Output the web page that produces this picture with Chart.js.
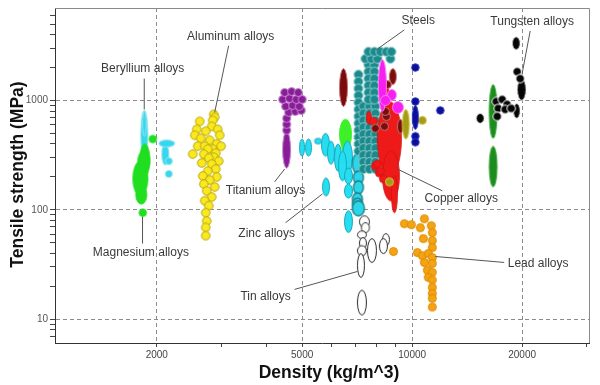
<!DOCTYPE html>
<html><head><meta charset="utf-8">
<script src="https://cdn.jsdelivr.net/npm/chart.js@4.4.0/dist/chart.umd.min.js"></script>
<style>html,body{margin:0;padding:0;background:#fff;overflow:hidden}canvas{display:block}</style>
</head><body>
<canvas id="c" width="600" height="385"></canvas>
<script>
// ---- axis ticks ----
const xTicks = [2000,3000,4000,5000,6000,7000,8000,9000,10000,20000,30000];
const xLabels = [2000,5000,10000,20000];
const yTicks = [7,8,9,10,20,30,40,50,60,70,80,90,100,200,300,400,500,600,700,800,900,1000,2000,3000,4000,5000,6000];
const yLabels = [10,100,1000];

// ---- data: [density, strength] for single grades, [densLo, densHi, strLo, strHi] for ranges ----
const beryllium = [[1808,1890,279,811],[1828,1870,470,794],[2064,2157,256,408],[2025,2240,376,435],[2157,279],[2157,213]];
const magnesium = [[1797,1914,204,400],[1720,1890,134,279],[1775,1914,227,345],[1752,1878,113,166],[1950,444],[1831,94]];
const aluminum = [[2863,746],[2881,701],[2845,658],[2621,644],[2827,580],[2936,545],[2572,545],[2722,523],[2541,481],[2973,481],[2638,451],[2792,433],[2918,400],[2589,382],[2705,382],[3000,382],[2845,359],[2757,359],[2899,330],[2508,323],[2689,323],[2863,303],[2775,297],[2955,279],[2655,268],[2827,262],[2899,236],[2757,226],[2672,204],[2918,200],[2792,187],[2689,172],[2881,162],[2740,149],[2827,131],[2705,121],[2775,109],[2722,94],[2740,79],[2722,69],[2722,58]];
const titanium = [[4421,4648,241,523],[4534,534],[4534,605],[4534,686],[4591,778],[4785,794],[4969,811],[4505,882],[4706,901],[4907,882],[4421,1021],[4618,1043],[4815,1021],[5000,1021],[4477,1183],[4677,1207],[4876,1183]];
const lime = [[6325,6820,359,672],[6404,6736,330,424]];
const zinc = [[4918,5075,310,444],[5107,5302,310,444],[5404,5648,400,451],[5648,5940,310,500],[5866,6130,262,424],[6130,6404,226,400],[6444,6862,213,424],[6286,6610,184,344],[6528,6862,172,241],[6528,6862,128,172],[5685,5940,134,195],[6528,6862,62,98]];
const steelsLow = [[6862,7262,216,323],[6906,7355,172,226],[6906,7355,140,184],[6862,7308,109,143],[6862,7308,98,128],[6862,7400,88,121]];
const steels = [
 [7128,1723],[7128,1488],[7128,1285],[7128,1110],[7128,959],[7128,828],[7128,715],[7128,618],[7128,534],[7128,461],[7128,400],[7128,344],
 [7355,882],[7638,882],[7932,882],[7355,762],[7638,762],[7932,762],[7355,658],[7638,658],[7932,658],[7355,568],[7638,568],[7932,568],
 [7355,491],[7638,491],[7932,491],[7355,424],[7638,424],[7932,424],[7355,366],[7638,366],[7932,366],[7355,316],[7638,316],[7932,316],
 [7355,273],[7638,273],[7932,273],[7355,236],[7638,236],[7932,236],
 [7590,2125],[7883,2125],[7590,1835],[7883,1835],[7590,1585],[7883,1585],[7590,1369],[7883,1369],[7590,1182],[7883,1182],[7590,1021],[7883,1021],
 [7447,2409],[7735,2409],[8033,2409],[8718,2409],
 [7590,2789],[7883,2789],[8186,2789],[8500,2789],[8774,2789]
];
const copper = [[8033,9342,204,979],[8290,9226,121,344],[8774,9110,94,204],[8135,8663,846,1398],[7494,7735,605,794],[7932,251],[8135,217],[7832,644],[8342,192],[8033,262],[8186,226]];
const maroon = [[6325,6652,882,1954],[8663,9052,1398,1954],[9110,9461,500,672],[8553,1398],[8500,715],[7932,556],[8395,580],[8447,794]];
const magenta = [[8084,8500,794,2359],[8553,9052,1000,1259],[8829,9461,762,979],[8447,1000]];
const olive = [[9400,9826,444,828],[10664,658],[8663,180]];
const navy = [[10202,2000],[10202,979],[10012,10394,545,901],[10202,471],[10202,415],[11940,811]];
const tin = [[7173,7638,68.6,88],[7262,7638,61.8,76.2],[7083,7494,54.5,64],[7173,7494,44.2,55.6],[7083,7494,38,47],[7083,7400,24.1,39.8],[7543,7982,33,54.5],[8290,8663,47,60.5],[8135,8553,39.8,54.5],[7083,7494,10.9,18.4]];
const lead = [[9521,74.6],[9950,73],[10530,68.6],[10797,82.8],[11280,71.5],[11350,61.8],[10730,54.5],[11350,52.3],[11350,45.1],[10332,40.6],[10664,38],[11070,39.8],[11350,36.6],[10797,33],[11350,32.3],[11000,28],[11350,26.8],[11070,24.1],[11350,22.8],[11350,19.5],[11350,17.2],[11350,15.5],[11350,12.9],[8884,41.5]];
const darkGreen = [[16248,17090,451,1398],[16248,17090,162,382]];
const tungsten = [[18782,19750,2909,3817],[19380,20504,1000,1585],[19380,1835],[19750,1585],[18900,19750,686,939],[14970,15740,618,762],[16982,979],[17638,1021],[18200,920],[17200,846],[17090,715],[17972,828],[18666,846]];

// ---- labels with leader lines (data coordinates) ----
const annotations = [
 {text:'Beryllium alloys', at:[1830,1950], from:[1848,1585], to:[1848,828]},
 {text:'Aluminum alloys', at:[3186,3817], from:[3145,3162], to:[2881,778]},
 {text:'Titanium alloys', at:[3970,149], from:[4202,180], to:[4477,236]},
 {text:'Steels', at:[10394,5336], from:[9521,4421], to:[7982,2909]},
 {text:'Tungsten alloys', at:[21300,5226], from:[21040,4329], to:[20000,1760]},
 {text:'Copper alloys', at:[13626,126], from:[12090,149], to:[9110,236]},
 {text:'Zinc alloys', at:[3997,60.5], from:[4503,76.2], to:[5685,140]},
 {text:'Magnesium alloys', at:[1809,40.6], from:[1828,49.1], to:[1828,86.4]},
 {text:'Tin alloys', at:[3970,16.2], from:[4766,18.7], to:[7084,27.3]},
 {text:'Lead alloys', at:[22120,32.3], from:[17855,33.0], to:[11570,37.4]}
];

// ---- styles ----
const styles = {
 beryllium:{fill:'#36d6ec', stroke:'#8fe6f2', lw:1, dot:7},
 magnesium:{fill:'#20de20', stroke:'#20de20', lw:1, dot:7.5},
 aluminum:{fill:'#fbe920', stroke:'#b8a70c', lw:1, dot:8.5},
 titanium:{fill:'#8a1c97', stroke:'#c088cc', lw:1, dot:8},
 lime:{fill:'#3ef02a', stroke:'#3ef02a', lw:1, dot:8},
 zinc:{fill:'#25dff0', stroke:'#1aa6c0', lw:1, dot:8},
 steelsLow:{fill:'#2bd6ea', stroke:'#1d7f86', lw:1.4, dot:8},
 steels:{fill:'#1b8a8d', stroke:'#8ccaca', lw:1, dot:9},
 copper:{fill:'#ee1a1a', stroke:'#d41010', lw:0.8, dot:8},
 maroon:{fill:'#7c0c0c', stroke:'#c27777', lw:1, dot:8},
 magenta:{fill:'#f51ff0', stroke:'#ff7af8', lw:1, dot:10},
 olive:{fill:'#a39c14', stroke:'#d2c84e', lw:1, dot:8},
 navy:{fill:'#0c0f9c', stroke:'#2a36c0', lw:1, dot:7.5},
 tin:{fill:'#ffffff', stroke:'#2a2a2a', lw:1, dot:8},
 lead:{fill:'#f6a313', stroke:'#d98c00', lw:1, dot:8},
 darkGreen:{fill:'#1c8c1c', stroke:'#4cb04c', lw:1, dot:8},
 tungsten:{fill:'#050505', stroke:'#ffffff', lw:1, dot:8.5}
};

// bottom -> top drawing order
const series = [
 ['Beryllium alloys', beryllium, styles.beryllium],
 ['Magnesium alloys', magnesium, styles.magnesium],
 ['Aluminum alloys', aluminum, styles.aluminum],
 ['Titanium alloys', titanium, styles.titanium],
 ['Lime grades', lime, styles.lime],
 ['Zinc alloys', zinc, styles.zinc],
 ['Steels (low)', steelsLow, styles.steelsLow],
 ['Steels', steels, styles.steels],
 ['Copper alloys', copper, styles.copper],
 ['Maroon grades', maroon, styles.maroon],
 ['Magenta grades', magenta, styles.magenta],
 ['Olive grades', olive, styles.olive],
 ['Navy grades', navy, styles.navy],
 ['Tin alloys', tin, styles.tin],
 ['Lead alloys', lead, styles.lead],
 ['Green grades', darkGreen, styles.darkGreen],
 ['Tungsten alloys', tungsten, styles.tungsten]
];

const cache = new Map();
function shape(w, h, fill, stroke, lw){
  const key = [w.toFixed(1), h.toFixed(1), fill, stroke, lw].join('|');
  if (cache.has(key)) return cache.get(key);
  const W = Math.ceil(w + lw + 2), H = Math.ceil(h + lw + 2);
  const c = document.createElement('canvas'); c.width = W; c.height = H;
  const g = c.getContext('2d');
  g.beginPath();
  g.ellipse(W/2, H/2, Math.max(w/2, 0.5), Math.max(h/2, 0.5), 0, 0, Math.PI*2);
  g.fillStyle = fill; g.fill();
  if (lw) { g.lineWidth = lw; g.strokeStyle = stroke; g.stroke(); }
  cache.set(key, c);
  return c;
}
function markFor(c, st){
  const raw = c.raw;
  if (!raw || !raw.rec) return 'circle';
  const xs = c.chart.scales.x, ys = c.chart.scales.y;
  let w = st.dot, h = st.dot;
  if (raw.rec.length === 4) {
    const ww = Math.abs(xs.getPixelForValue(raw.rec[1]) - xs.getPixelForValue(raw.rec[0]));
    const hh = Math.abs(ys.getPixelForValue(raw.rec[3]) - ys.getPixelForValue(raw.rec[2]));
    if (isFinite(ww) && isFinite(hh) && ww > 0 && hh > 0) { w = ww; h = hh; }
  }
  return shape(w, h, st.fill, st.stroke, st.lw);
}

const datasets = series.map(([label, recs, st], i) => ({
  label,
  order: series.length - i,
  data: recs.map(r => r.length === 2
      ? {x: r[0], y: r[1], rec: r}
      : {x: Math.sqrt(r[0]*r[1]), y: Math.sqrt(r[2]*r[3]), rec: r}),
  pointRadius: 3,
  pointStyle: (c) => markFor(c, st),
  backgroundColor: st.fill,
  borderColor: st.stroke
}));

const FONT = '"Liberation Sans", Arial, sans-serif';

const overlay = {
  id: 'overlay',
  beforeDatasetsDraw(chart){
    const {ctx, chartArea: a} = chart;
    ctx.save();
    ctx.strokeStyle = '#8a8a8a'; ctx.lineWidth = 1;
    ctx.beginPath();
    ctx.moveTo(a.left, a.top + 0.5); ctx.lineTo(a.right + 0.5, a.top + 0.5); ctx.lineTo(a.right + 0.5, a.bottom);
    ctx.stroke();
    ctx.restore();
  },
  afterDatasetsDraw(chart){
    const {ctx, scales: {x, y}} = chart;
    ctx.save();
    ctx.strokeStyle = '#555'; ctx.lineWidth = 1;
    annotations.forEach(a => {
      ctx.beginPath();
      ctx.moveTo(x.getPixelForValue(a.from[0]), y.getPixelForValue(a.from[1]));
      ctx.lineTo(x.getPixelForValue(a.to[0]), y.getPixelForValue(a.to[1]));
      ctx.stroke();
    });
    ctx.font = '12px ' + FONT; ctx.fillStyle = '#3a3a3a';
    ctx.textAlign = 'center'; ctx.textBaseline = 'middle';
    annotations.forEach(a => ctx.fillText(a.text, x.getPixelForValue(a.at[0]), y.getPixelForValue(a.at[1])));
    ctx.restore();
  },
  afterDraw(chart){
    const {ctx} = chart;
    ctx.save();
    ctx.fillStyle = '#111';
    ctx.font = 'bold 17.5px ' + FONT;
    ctx.textAlign = 'center'; ctx.textBaseline = 'alphabetic';
    ctx.fillText('Density (kg/m^3)', 329, 378);
    ctx.translate(23, 174.5); ctx.rotate(-Math.PI/2);
    ctx.fillText('Tensile strength (MPa)', 0, 0);
    ctx.restore();
  }
};

new Chart(document.getElementById('c'), {
  type: 'scatter',
  data: {datasets},
  options: {
    responsive: false, animation: false, events: [],
    layout: {autoPadding: false, padding: {left: 0, top: 6, right: 11, bottom: 0}},
    plugins: {legend: {display: false}, tooltip: {enabled: false}},
    scales: {
      x: {
        type: 'logarithmic', min: 1053, max: 30480, position: 'bottom',
        afterBuildTicks: s => { s.ticks = xTicks.map(v => ({value: v, major: xLabels.includes(v)})); },
        afterFit: s => { s.height = 42; },
        ticks: {autoSkip: false, maxRotation: 0, minRotation: 0, padding: 2, color: '#444',
                font: {size: 10, family: FONT},
                callback: v => xLabels.includes(v) ? String(v) : ''},
        grid: {color: c => (c.tick && xLabels.includes(c.tick.value)) ? '#8c8c8c' : 'rgba(0,0,0,0)',
               tickColor: '#444', tickLength: 4, lineWidth: 1},
        border: {display: true, color: '#333', width: 1, dash: [4, 3]}
      },
      y: {
        type: 'logarithmic', min: 6.05, max: 7007, position: 'left',
        afterBuildTicks: s => { s.ticks = yTicks.map(v => ({value: v, major: yLabels.includes(v)})); },
        afterFit: s => { s.width = 55; },
        ticks: {autoSkip: false, padding: 2, color: '#555',
                font: {size: 10, family: FONT},
                callback: v => yLabels.includes(v) ? String(v) : ''},
        grid: {color: c => (c.tick && yLabels.includes(c.tick.value)) ? '#8c8c8c' : 'rgba(0,0,0,0)',
               tickColor: '#444', tickLength: 5, lineWidth: 1},
        border: {display: true, color: '#333', width: 1, dash: [4, 3]}
      }
    }
  },
  plugins: [overlay]
});
</script>
</body></html>
